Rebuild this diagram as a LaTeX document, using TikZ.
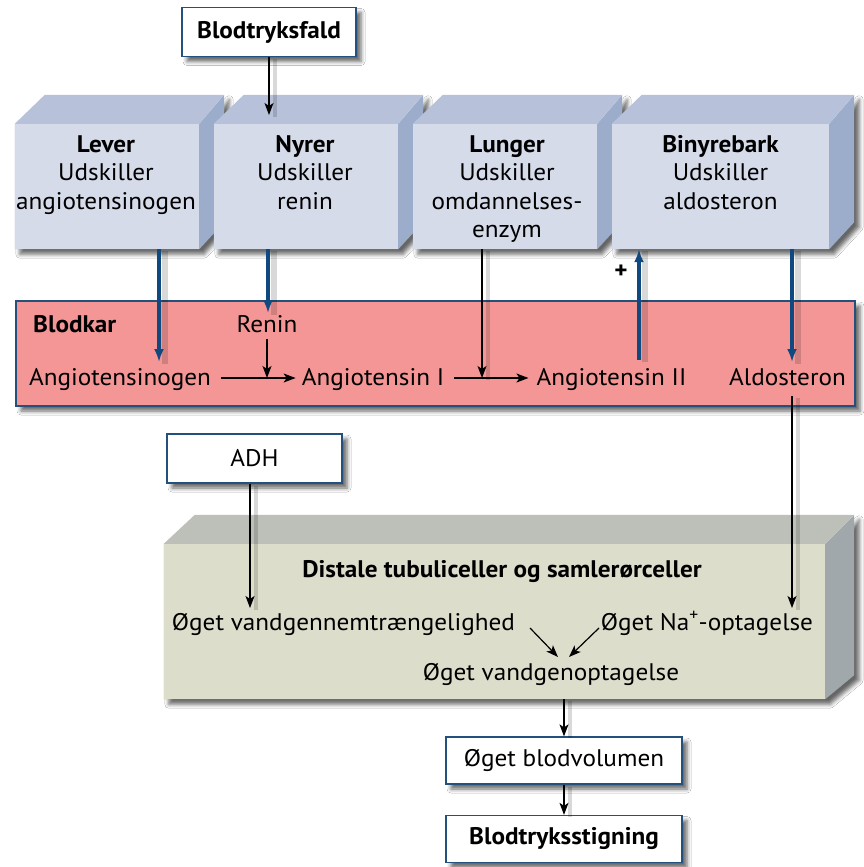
\documentclass[tikz,border=0pt]{standalone}
\usepackage{fontspec}
\setmainfont{PT Sans}[FakeStretch=1.05]
\usetikzlibrary{arrows.meta,shadows.blur,calc}
\definecolor{bdblue}{RGB}{35,80,125}
\definecolor{arblue}{RGB}{16,72,128}
\definecolor{pinkfill}{RGB}{245,150,150}
\definecolor{bfront}{RGB}{214,219,234}
\definecolor{btop}{RGB}{183,193,218}
\definecolor{bside}{RGB}{156,173,204}
\definecolor{ofront}{RGB}{221,221,203}
\definecolor{otop}{RGB}{188,192,184}
\definecolor{oside}{RGB}{160,168,172}
% #1 name #2 dxl #3 dxr #4 dyt #5 dyb #6 front #7 top #8 side
\newcommand\mycube[8]{%
  \fill[#8,shadowed] (#1.north east) -- ++(#3,-#4) -- ($(#1.south east)+(#3,-#5)$) -- (#1.south east) -- (#1.south west) -- (#1.north west) -- cycle;
  \fill[#7] (#1.north west) -- ++(#2,-#4) -- ($(#1.north east)+(#3,-#4)$) -- (#1.north east) -- cycle;
  \fill[#6] (#1.north west) rectangle (#1.south east);
}
\begin{document}
\begin{tikzpicture}[x=1pt,y=-1pt,font=\fontsize{24}{28.5}\selectfont,
  shadowed/.style={blur shadow={shadow xshift=5pt,shadow yshift=-5pt,shadow blur radius=4pt,shadow opacity=60}},
  whitebox/.style={draw=bdblue,line width=1.3pt,fill=white,shadowed,inner sep=0pt},
  frontbox/.style={inner sep=0pt},
  txt/.style={inner sep=0pt,align=center},
  boldtxt/.style={font=\fontsize{24}{28.5}\selectfont\bfseries},
  lshadow/.style={preaction={draw=black,draw opacity=0.15,line width=#1,arrows=-,transform canvas={xshift=6pt,yshift=-2pt}}},
  thinarrow/.style={draw=black,line width=1.2pt,-{Stealth[length=12pt,width=9pt,inset=3pt]}},
  bluearrow/.style={draw=arblue,line width=4pt,-{Latex[length=13pt,width=10pt]}},
]
\fill[white] (0,0) rectangle (864,867);
\useasboundingbox (0,0) rectangle (864,867);

% top box
\node[whitebox,minimum width=174pt,minimum height=49pt,boldtxt] (fald) at (269,32) {Blodtryksfald};

% organ cubes
\node[frontbox,minimum width=184pt,minimum height=125pt] (lever) at (107,186.5) {};
\mycube{lever}{30}{25}{29}{27}{bfront}{btop}{bside}
\node[frontbox,minimum width=184pt,minimum height=125pt] (nyrer) at (306,186.5) {};
\mycube{nyrer}{30}{25}{29}{27}{bfront}{btop}{bside}
\node[frontbox,minimum width=184pt,minimum height=125pt] (lunger) at (505,186.5) {};
\mycube{lunger}{30}{25}{29}{27}{bfront}{btop}{bside}
\node[frontbox,minimum width=217pt,minimum height=125pt] (binyre) at (720.5,186.5) {};
\mycube{binyre}{30}{25}{29}{27}{bfront}{btop}{bside}

\node[txt,anchor=north] (levert) at (106,135) {\textbf{Lever}\\Udskiller\\angiotensinogen};
\node[txt,anchor=north] (nyrert) at (305,135) {\textbf{Nyrer}\\Udskiller\\renin};
\node[txt,anchor=north] (lungert) at (507,135) {\textbf{Lunger}\\Udskiller\\omdannelses-\\enzym};
\node[txt,anchor=north] (binyret) at (720.5,135) {\textbf{Binyrebark}\\Udskiller\\aldosteron};

\coordinate (nyrtop) at (269,115);
\draw[thinarrow,lshadow=4pt] (fald.south) -- (nyrtop);

% blood vessel
\node[draw=bdblue,line width=1.2pt,fill=pinkfill,shadowed,minimum width=839pt,minimum height=105pt,inner sep=0pt] (blodkar) at (435.5,353.5) {};
\node[txt,anchor=base west,boldtxt] (blodkart) at (33,332) {Blodkar};
\node[txt,anchor=base] (renin) at (267,332) {Renin};
\node[txt,anchor=base] (agen) at (120,385) {Angiotensinogen};
\node[txt,anchor=base] (a1) at (373,385) {Angiotensin I};
\node[txt,anchor=base] (a2) at (611.5,385) {Angiotensin II};
\node[txt,anchor=base] (aldo) at (787.5,385) {Aldosteron};

\coordinate (j1) at (267,378);
\coordinate (j2) at (482,378);
\draw[thinarrow] ([xshift=10pt]agen.east |- j1) -- ([xshift=-6pt]a1.west |- j1);
\draw[thinarrow] ([xshift=10pt]a1.east |- j2) -- ([xshift=-8pt]a2.west |- j2);
\draw[thinarrow] ([yshift=-7pt]renin.south) -- (j1);
\draw[thinarrow,lshadow=4pt] (lunger.south -| j2) -- (j2);

\coordinate (xlev) at (159,362);
\draw[bluearrow,lshadow=6pt] (lever.south -| xlev) -- (xlev);
\coordinate (xnyr) at (268,313);
\draw[bluearrow,lshadow=6pt] (nyrer.south -| xnyr) -- (xnyr);
\coordinate (xa2) at (639,360);
\draw[bluearrow,lshadow=6pt] (xa2) -- (binyre.south -| xa2);
\node[txt,boldtxt] (plus) at (621,272) {+};
\coordinate (xald) at (792,362);
\draw[bluearrow,lshadow=6pt] (binyre.south -| xald) -- (xald);

% ADH
\node[whitebox,minimum width=175pt,minimum height=49pt] (adh) at (254.5,458.5) {ADH};

% tubule cube
\node[frontbox,minimum width=661pt,minimum height=155pt] (olive) at (494.5,621.5) {};
\mycube{olive}{31}{29}{29}{24}{ofront}{otop}{oside}

\node[txt,anchor=base,boldtxt] (distal) at (502,577) {Distale tubuliceller og samlerørceller};
\node[txt,anchor=base] (vand) at (343.5,630) {Øget vandgennemtrængelighed};
\node[txt,anchor=base] (na) at (707,630) {Øget Na\textsuperscript{+}-optagelse};
\node[txt,anchor=base] (vgo) at (551,680) {Øget vandgenoptagelse};

\coordinate (adhtip) at (250,608);
\draw[thinarrow,lshadow=4pt] (adh.south -| adhtip) -- (adhtip);
\coordinate (aldtop) at (792,396);
\coordinate (aldtip) at (792,608);
\draw[thinarrow,lshadow=4pt] (aldtop) -- (aldtip);

\coordinate (v1s) at (530,628);
\coordinate (v1e) at (558,657);
\coordinate (v2s) at (599,628);
\coordinate (v2e) at (569,657);
\draw[thinarrow] (v1s) -- (v1e);
\draw[thinarrow] (v2s) -- (v2e);

% bottom boxes
\node[whitebox,minimum width=236pt,minimum height=47pt] (vol) at (564,760.5) {Øget blodvolumen};
\node[whitebox,minimum width=236pt,minimum height=47pt,boldtxt] (stig) at (564,839) {Blodtryksstigning};

\draw[thinarrow,lshadow=4pt] (olive.south -| vol.north) -- (vol.north);
\draw[thinarrow,lshadow=4pt] (vol.south) -- (stig.north);
\end{tikzpicture}
\end{document}
